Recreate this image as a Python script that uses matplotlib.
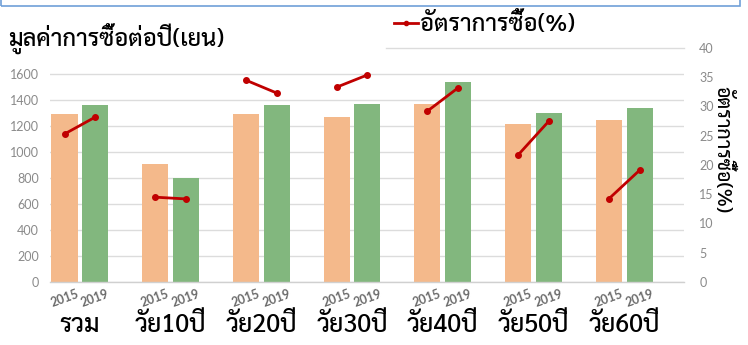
import matplotlib
matplotlib.use("Agg")
import matplotlib.pyplot as plt
from matplotlib.patches import Rectangle
from matplotlib.lines import Line2D
import numpy as np

categories = ["รวม", "วัย10ปี", "วัย20ปี", "วัย30ปี", "วัย40ปี", "วัย50ปี", "วัย60ปี"]
years = ["2015", "2019"]
value_2015 = [1290, 910, 1290, 1270, 1370, 1215, 1245]
value_2019 = [1360, 800, 1360, 1370, 1540, 1300, 1340]
rate_2015 = [25.3, 14.5, 34.5, 33.3, 29.2, 21.7, 14.2]
rate_2019 = [28.2, 14.2, 32.3, 35.4, 33.2, 27.5, 19.1]
left_ticks = [0, 200, 400, 600, 800, 1000, 1200, 1400, 1600]
right_ticks = [0, 5, 10, 15, 20, 25, 30, 35, 40]
title_text = "มูลค่าการซื้อต่อปี(เยน)"
rate_label = "อัตราการซื้อ(%)"

THAI = ["Sarabun", "DejaVu Sans"]
NUM = ["Lato", "DejaVu Sans"]
W, H = 748, 345

fig = plt.figure(figsize=(W / 100, H / 100), dpi=100)
fig.patch.set_facecolor("white")

def fx(px):
    return px / W

def fy(py):
    return 1 - py / H

ax = fig.add_axes([fx(50), fy(282), fx(684) - fx(50), fy(48) - fy(282)])
ax2 = ax.twinx()

x = np.arange(len(categories))
off = 0.17
bw = 0.287
c_orange = "#F4B98B"
c_green = "#82B77E"
ax.bar(x - off, value_2015, width=bw, color=c_orange, zorder=2)
ax.bar(x + off, value_2019, width=bw, color=c_green, zorder=2)

ax.set_xlim(-0.33, 6.66)
ax.set_ylim(0, 1800)
ax.set_yticks(left_ticks)
ax.set_yticklabels([str(v) for v in left_ticks], family=NUM, fontsize=9, color="#8a8a8a")
ax.yaxis.grid(True, color="#dcdcdc", linewidth=1, zorder=0)
ax.axhline(1800, xmin=0.53, xmax=1, color="#dcdcdc", linewidth=1, zorder=0, clip_on=False)
ax.set_axisbelow(True)
ax.tick_params(axis="y", length=0, pad=8)

pos = np.concatenate([x - off, x + off])
labs = [years[0]] * len(x) + [years[1]] * len(x)
ax.set_xticks(pos)
ax.set_xticklabels(labs, rotation=20, family=NUM, fontsize=9, fontweight="bold", color="#6b6b6b")
ax.tick_params(axis="x", length=0, pad=4)

for s in ["top", "left", "right"]:
    ax.spines[s].set_visible(False)
ax.spines["bottom"].set_color("#d0d0d0")
ax.spines["bottom"].set_linewidth(1)

# category labels
for xi, cat in zip(x, categories):
    ax.text(xi, -(326 - 282) / 234, cat, transform=ax.get_xaxis_transform(), ha="center", va="center",
            family=THAI, fontsize=18, color="black", fontweight="medium")

# rate line segments per group
for i in range(len(x)):
    ax2.plot([x[i] - off, x[i] + off], [rate_2015[i], rate_2019[i]], color="#C00000",
             linewidth=2, marker="o", markersize=4, zorder=5)
ax2.set_ylim(0, 40)
ax2.set_yticks(right_ticks)
ax2.set_yticklabels([str(v) for v in right_ticks], family=NUM, fontsize=9, color="#8a8a8a")
ax2.tick_params(axis="y", length=0, pad=11)
for s in ["top", "left", "right", "bottom"]:
    ax2.spines[s].set_visible(False)

fig.text(fx(723), fy(150), rate_label, rotation=270, ha="center", va="center",
         family=THAI, fontsize=14, color="black", fontweight="medium")

fig.text(fx(8), fy(38), title_text, ha="left", va="center", family=THAI, fontsize=17,
         color="black", fontweight="medium")

handle = Line2D([], [], color="#C00000", linewidth=2, marker="o", markersize=3)
fig.legend([handle], [rate_label], loc="center left", bbox_to_anchor=(fx(394), fy(24)),
           bbox_transform=fig.transFigure, frameon=False, handlelength=1.0, handletextpad=0.12,
           borderaxespad=0, borderpad=0, prop={"family": THAI, "size": 17, "weight": "medium"})

# top blue text-box border (cropped)
fig.patches.append(Rectangle((fx(1), fy(6)), fx(740) - fx(1), 0.1, transform=fig.transFigure,
                             facecolor="none", edgecolor="#6FA0D8", linewidth=1.2, clip_on=False))

fig.savefig("out.png", dpi=100)
